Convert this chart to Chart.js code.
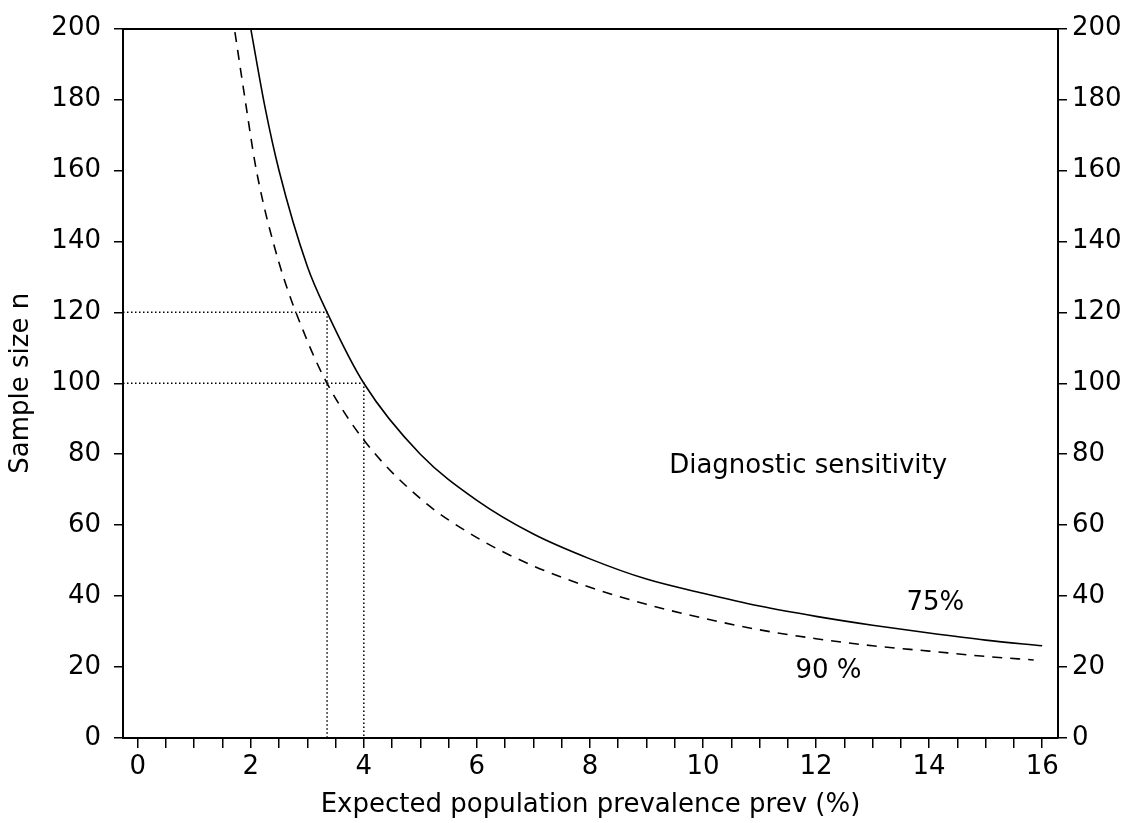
<!DOCTYPE html>
<html>
<head>
<meta charset="utf-8">
<script src="https://cdn.jsdelivr.net/npm/chart.js@4/dist/chart.umd.min.js"></script>
<style>
  html, body { margin: 0; padding: 0; background: #fff; }
  canvas { display: block; }
</style>
</head>
<body>
<canvas id="sampleChart" width="1135" height="823"></canvas>
<script>
    // values
    const prev75 = [2.0, 2.25, 2.5, 3.0, 3.35, 4, 5, 6, 7, 8, 9, 10, 11, 12, 13, 14, 15, 16];
    const n75    = [200, 178, 160, 133, 120, 100, 80, 67, 57.5, 50.5, 44.8, 40.8, 37.2, 34.3, 31.8, 29.6, 27.6, 26];
    const prev90 = [1.72, 1.9, 2.1, 2.5, 3.0, 3.35, 4, 5, 6, 7, 8, 9, 10, 11, 12, 13, 14, 15, 15.85];
    const n90    = [199, 180, 160, 134, 112, 100, 84, 67.5, 56.5, 48.5, 42.5, 37.7, 33.8, 30.5, 28, 26, 24.5, 23, 22];

    // dotted reading guides (prevalence, sample size)
    const guidePrev = [3.35, 4];
    const guideN    = [120, 100];

    const xTickLabels = [0, 2, 4, 6, 8, 10, 12, 14, 16];
    const yTickLabels = [0, 20, 40, 60, 80, 100, 120, 140, 160, 180, 200];

    const notes     = ['Diagnostic sensitivity', '75%', '90 %'];
    const notePrev  = [11.86, 14.11, 12.22];
    const noteN     = [76.6, 37.9, 18.8];

    const X_MIN = -0.26;
    const X_MAX = 16.28;
    const FONT = "'DejaVu Sans', sans-serif";

    function toPoints(xs, ys) {
      return xs.map((x, i) => ({ x: x, y: ys[i] }));
    }

    const guideSets = guidePrev.map((gx, i) => ({
      data: [{ x: X_MIN, y: guideN[i] }, { x: gx, y: guideN[i] }, { x: gx, y: 0 }],
      borderColor: '#000',
      borderWidth: 1.5,
      borderDash: [1.5, 2.5],
      pointRadius: 0,
      tension: 0
    }));

    const notesPlugin = {
      id: 'notes',
      afterDatasetsDraw(chart) {
        const ctx = chart.ctx;
        const xs = chart.scales.x, ys = chart.scales.y;
        ctx.save();
        ctx.fillStyle = '#000';
        ctx.font = '26px ' + FONT;
        ctx.textAlign = 'center';
        ctx.textBaseline = 'middle';
        notes.forEach((t, i) => {
          ctx.fillText(t, xs.getPixelForValue(notePrev[i]), ys.getPixelForValue(noteN[i]));
        });
        ctx.restore();
      }
    };

    function yAxis(pos, width, pad) {
      return {
        type: 'linear',
        position: pos,
        min: 0,
        max: 200,
        afterFit: s => { s.width = width; },
        ticks: {
          stepSize: 20,
          color: '#000',
          padding: pad,
          font: { family: FONT, size: 26 },
          callback: v => yTickLabels.includes(v) ? v : ''
        },
        grid: { drawOnChartArea: false, drawTicks: true, tickLength: 9, color: '#000', lineWidth: 1.5 },
        border: { display: true, color: '#000', width: 2 }
      };
    }

    function initChart() {
      const ctx = document.getElementById('sampleChart').getContext('2d');
      const y = yAxis('left', 123, 13);
      y.title = { display: true, text: 'Sample size n', color: '#000', font: { family: FONT, size: 26 }, padding: { top: 6, bottom: 0 } };

      new Chart(ctx, {
        type: 'line',
        data: {
          datasets: [
            {
              label: '75%',
              data: toPoints(prev75, n75),
              borderColor: '#000',
              borderWidth: 1.6,
              pointRadius: 0,
              cubicInterpolationMode: 'monotone'
            },
            {
              label: '90 %',
              data: toPoints(prev90, n90),
              borderColor: '#000',
              borderWidth: 1.6,
              borderDash: [10, 8],
              pointRadius: 0,
              cubicInterpolationMode: 'monotone'
            },
            ...guideSets
          ]
        },
        options: {
          responsive: false,
          devicePixelRatio: 1,
          animation: false,
          layout: { padding: { top: 20, left: 0, right: 0, bottom: 0 } },
          plugins: { legend: { display: false }, tooltip: { enabled: false } },
          scales: {
            x: {
              type: 'linear',
              position: 'bottom',
              min: X_MIN,
              max: X_MAX,
              afterFit: s => { s.height = 85; },
              ticks: {
                stepSize: 0.5,
                autoSkip: false,
                includeBounds: false,
                maxRotation: 0,
                color: '#000',
                padding: 4,
                font: { family: FONT, size: 26 },
                callback: v => xTickLabels.includes(v) ? v : ''
              },
              grid: { drawOnChartArea: false, drawTicks: true, tickLength: 10, color: '#000', lineWidth: 1.5 },
              border: { display: true, color: '#000', width: 2 },
              title: {
                display: true,
                text: 'Expected population prevalence prev (%)',
                color: '#000',
                font: { family: FONT, size: 26 },
                padding: { top: 0, bottom: 2 }
              }
            },
            xTop: {
              type: 'linear',
              position: 'top',
              min: X_MIN,
              max: X_MAX,
              display: true,
              afterFit: s => { s.height = 0; },
              ticks: { display: false },
              grid: { display: false, drawTicks: false },
              border: { display: true, color: '#000', width: 2 }
            },
            y: y,
            y2: yAxis('right', 77, 5)
          }
        },
        plugins: [notesPlugin]
      });
    }

    document.addEventListener('DOMContentLoaded', initChart);
</script>
</body>
</html>
